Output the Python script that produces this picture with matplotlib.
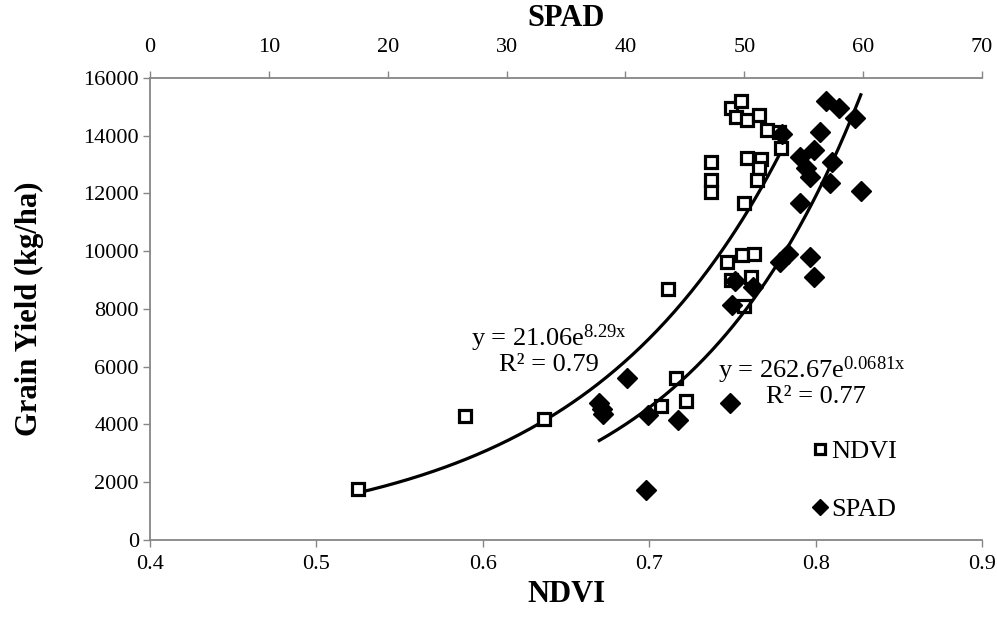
import numpy as np
import matplotlib
matplotlib.use("Agg")
import matplotlib.pyplot as plt

plt.rcParams["font.family"] = ["Liberation Serif", "DejaVu Serif"]
plt.rcParams["mathtext.fontset"] = "custom"
plt.rcParams["mathtext.rm"] = "Liberation Serif"
plt.rcParams["mathtext.it"] = "Liberation Serif"

# ── Data ──────────────────────────────────────────────────────────────────────

ndvi = [0.525, 0.589, 0.637, 0.707, 0.716, 0.722, 0.711,
        0.737, 0.737, 0.737, 0.749, 0.755, 0.752, 0.759, 0.766,
        0.771, 0.778, 0.779, 0.759, 0.767, 0.766, 0.765, 0.757,
        0.747, 0.756, 0.763, 0.749, 0.761, 0.757]
ndvi_yield = [1750, 4300, 4180, 4640, 5610, 4810, 8700,
              13090, 12450, 12050, 14960, 15200, 14650, 14550, 14720,
              14200, 14130, 13580, 13230, 13200, 12880, 12470, 11670,
              9630, 9870, 9900, 9000, 9110, 8100]

spad = [56.9, 58.0, 59.3, 56.4, 55.9, 54.7, 57.4, 55.2, 55.5, 57.2,
        59.8, 54.7, 53.2, 53.0, 53.7, 55.5, 55.9, 50.7, 49.2, 49.0,
        48.8, 40.1, 37.8, 38.0, 38.1, 41.9, 44.4, 41.7]
spad_yield = [15200, 14960, 14610, 14130, 13520, 13260, 13090, 12880, 12570, 12360,
              12070, 11670, 14050, 9620, 9900, 9800, 9110, 8760, 8980, 8140,
              4740, 5610, 4750, 4550, 4350, 4330, 4160, 1720]

ndvi_fit = (21.06, 8.29)       # y = a * exp(b x)
spad_fit = (262.67, 0.0681)

AXIS = "#868686"

# ── Plot ──────────────────────────────────────────────────────────────────────

fig = plt.figure(figsize=(9.97, 6.17), dpi=100)
ax = fig.add_axes([0.1505, 0.1248, 0.8345, 0.7488])
ax2 = ax.twiny()

ax.plot(ndvi, ndvi_yield, ls="none", marker="s", ms=9, mfc="white",
        mec="black", mew=2.3, label="NDVI", zorder=3)
ax2.plot(spad, spad_yield, ls="none", marker="D", ms=10, mfc="black",
         mec="black", label="SPAD", zorder=3)

xn = np.linspace(min(ndvi), max(ndvi), 200)
ax.plot(xn, ndvi_fit[0] * np.exp(ndvi_fit[1] * xn), color="black", lw=2.3, zorder=2)
xs = np.linspace(min(spad), max(spad), 200)
ax2.plot(xs, spad_fit[0] * np.exp(spad_fit[1] * xs), color="black", lw=2.3, zorder=2)

ax.set_xlim(0.4, 0.9)
ax.set_ylim(0, 16000)
ax2.set_xlim(0, 70)
ax.set_xticks(np.arange(0.4, 0.91, 0.1))
ax.set_xticklabels(["0.4", "0.5", "0.6", "0.7", "0.8", "0.9"])
ax.set_yticks(np.arange(0, 16001, 2000))
ax2.set_xticks(np.arange(0, 71, 10))

for a in (ax, ax2):
    for s in a.spines.values():
        s.set_visible(False)
    a.tick_params(direction="out", length=5, width=1, color=AXIS,
                  labelsize=16, labelcolor="black", pad=3)
ax.tick_params(axis="x", pad=6)
ax2.tick_params(axis="x", pad=10)
ax.spines["left"].set_visible(True)
ax.spines["bottom"].set_visible(True)
ax2.spines["top"].set_visible(True)
for s in (ax.spines["left"], ax.spines["bottom"], ax2.spines["top"]):
    s.set_color(AXIS)
    s.set_linewidth(1.3)

ax.set_xlabel("NDVI", fontsize=22, fontweight="bold", labelpad=4)
ax.set_ylabel("Grain Yield (kg/ha)", fontsize=22, fontweight="bold", labelpad=28)
ax2.set_xlabel("SPAD", fontsize=22, fontweight="bold", labelpad=9)

ax.text(0.6395, 7000, r"y = 21.06e$^{8.29x}$", fontsize=19, ha="center", va="center")
ax.text(0.6395, 6060, "R² = 0.79", fontsize=19, ha="center", va="center")
ax.text(0.7976, 5890, r"y = 262.67e$^{0.0681x}$", fontsize=19, ha="center", va="center")
ax.text(0.8000, 4950, "R² = 0.77", fontsize=19, ha="center", va="center")

h1, l1 = ax.get_legend_handles_labels()
h2, l2 = ax2.get_legend_handles_labels()
ax.legend(h1 + h2, l1 + l2, loc="upper left", bbox_to_anchor=(0.782, 0.245),
          frameon=False, fontsize=19, handlelength=0.5, handletextpad=0.15,
          labelspacing=1.3, borderpad=0, markerscale=0.85)

fig.savefig("out.png", dpi=100, facecolor="white")
